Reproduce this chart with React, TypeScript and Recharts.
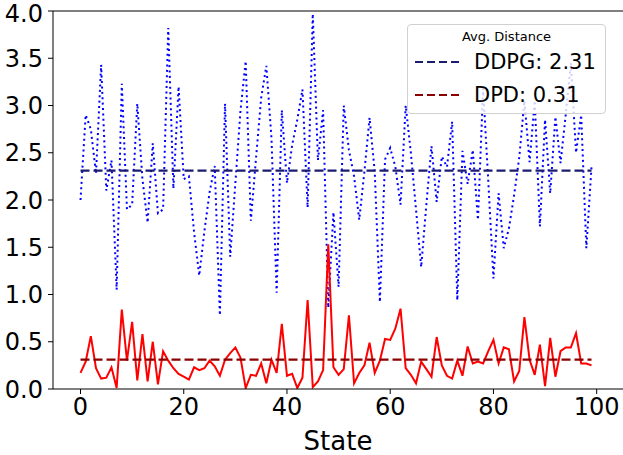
import { LineChart, Line, XAxis, YAxis, ReferenceLine, Legend } from 'recharts'

// x positions: the state index
const states = Array.from({ length: 100 }, (_, i) => i)

const ddpgDistance = [
  2.0, 2.9, 2.75, 2.28, 3.43, 2.1, 2.42, 1.05, 3.23, 1.9,
  1.95, 3.02, 2.22, 1.76, 2.6, 1.86, 1.9, 3.82, 2.12, 3.2,
  2.22, 2.25, 1.66, 1.2, 1.67, 2.08, 2.36, 0.78, 3.02, 1.4,
  2.18, 2.95, 3.47, 1.78, 2.44, 3.08, 3.42, 2.65, 1.02, 2.95,
  2.18, 2.58, 2.85, 3.17, 1.92, 3.97, 2.42, 2.95, 0.86, 1.87,
  1.08, 3.0, 2.53, 2.25, 1.79, 2.3, 2.87, 2.3, 0.92, 2.43,
  2.55, 2.35, 1.95, 3.0, 2.5, 1.9, 1.29, 1.95, 2.57, 1.98,
  2.46, 2.35, 2.83, 0.94, 2.52, 2.17, 2.53, 1.79, 3.18, 2.2,
  1.17, 2.07, 1.49, 1.7, 2.05, 2.45, 3.05, 2.4, 3.05, 1.72,
  2.85, 2.07, 2.88, 2.39, 2.9, 3.45, 2.5, 2.9, 1.49, 2.35,
]

const dpdDistance = [
  0.17, 0.29, 0.56, 0.22, 0.11, 0.12, 0.23, 0.01, 0.84, 0.3,
  0.71, 0.09, 0.58, 0.08, 0.5, 0.05, 0.4, 0.3, 0.22, 0.16,
  0.13, 0.1, 0.23, 0.2, 0.22, 0.3, 0.24, 0.14, 0.31, 0.38,
  0.44, 0.33, 0.01, 0.15, 0.14, 0.27, 0.06, 0.31, 0.17, 0.69,
  0.14, 0.16, 0.01, 0.12, 0.94, 0.02, 0.08, 0.2, 1.53, 0.23,
  0.15, 0.21, 0.78, 0.06, 0.17, 0.25, 0.49, 0.17, 0.3, 0.53,
  0.52, 0.64, 0.85, 0.22, 0.15, 0.06, 0.29, 0.21, 0.13, 0.55,
  0.25, 0.14, 0.11, 0.3, 0.14, 0.45, 0.27, 0.29, 0.27, 0.4,
  0.52, 0.27, 0.44, 0.42, 0.08, 0.19, 0.76, 0.31, 0.15, 0.47,
  0.03, 0.54, 0.13, 0.4, 0.44, 0.44, 0.59, 0.27, 0.27, 0.25,
]

const ddpgAvg = 2.31
const dpdAvg = 0.31

const xTicks = [0, 20, 40, 60, 80, 100]
const yTicks = [0, 0.5, 1, 1.5, 2, 2.5, 3, 3.5, 4]

const legendTitle = 'Avg. Distance'
const legendItems = [
  { label: `DDPG: ${ddpgAvg}`, color: '#1c1c6e' },
  { label: `DPD: ${dpdAvg}`, color: '#8b0000' },
]

const data = states.map((s, i) => ({ state: s, ddpg: ddpgDistance[i], dpd: dpdDistance[i] }))

const font = '"DejaVu Sans", sans-serif'
// the original figure is cropped on the right, so the right spine is off-canvas
const xDomain: [number, number] = [-5.33, 105.1]

function AvgLegend() {
  return (
    <div
      style={{
        width: 199,
        height: 90,
        boxSizing: 'border-box',
        background: 'rgba(255,255,255,0.8)',
        border: '1px solid #d0d0d0',
        borderRadius: 4,
        fontFamily: font,
        color: '#000',
      }}
    >
      <div style={{ fontSize: 13, textAlign: 'center', marginTop: 4, lineHeight: '16px' }}>{legendTitle}</div>
      {legendItems.map((item) => (
        <div key={item.label} style={{ display: 'flex', alignItems: 'center', height: 33 }}>
          <svg width={66} height={10} style={{ flex: 'none' }}>
            <line x1={7} x2={51} y1={5} y2={5} stroke={item.color} strokeWidth={2.2} strokeDasharray="8 4" />
          </svg>
          <span style={{ fontSize: 21 }}>{item.label}</span>
        </div>
      ))}
    </div>
  )
}

export default function App() {
  return (
    <div style={{ position: 'absolute', left: 0, top: 0, background: '#fff' }}>
      <LineChart width={623} height={455} data={data} margin={{ top: 11, right: 0, bottom: 0, left: 0 }}>
        <XAxis
          dataKey="state"
          type="number"
          domain={xDomain}
          ticks={xTicks}
          allowDataOverflow
          height={66}
          stroke="#000"
          tickSize={5}
          tickMargin={4}
          tick={{ fill: '#000', fontSize: 24, fontFamily: font }}
          label={{ value: 'State', position: 'insideBottom', offset: 5, fill: '#000', fontSize: 26, fontFamily: font }}
        />
        <YAxis
          type="number"
          domain={[0, 4]}
          ticks={yTicks}
          allowDataOverflow
          width={53}
          stroke="#000"
          tickSize={5}
          tickMargin={5}
          tickFormatter={(v: number) => v.toFixed(1)}
          tick={{ fill: '#000', fontSize: 24, fontFamily: font }}
        />
        <ReferenceLine y={4} stroke="#000" strokeWidth={1.1} />
        <Line
          dataKey="ddpg"
          stroke="#0000ff"
          strokeWidth={2}
          strokeDasharray="2 3.4"
          dot={false}
          type="linear"
          isAnimationActive={false}
        />
        <Line dataKey="dpd" stroke="#ff0000" strokeWidth={2} dot={false} type="linear" isAnimationActive={false} />
        <ReferenceLine
          segment={[{ x: 0, y: ddpgAvg }, { x: 99, y: ddpgAvg }]}
          stroke={legendItems[0].color}
          strokeWidth={2.2}
          strokeDasharray="9 4"
        />
        <ReferenceLine
          segment={[{ x: 0, y: dpdAvg }, { x: 99, y: dpdAvg }]}
          stroke={legendItems[1].color}
          strokeWidth={2.2}
          strokeDasharray="9 4"
        />
        <Legend
          layout="horizontal"
          verticalAlign="middle"
          content={() => <AvgLegend />}
          wrapperStyle={{ left: 407, top: 24, width: 199, height: 90 }}
        />
      </LineChart>
    </div>
  )
}
